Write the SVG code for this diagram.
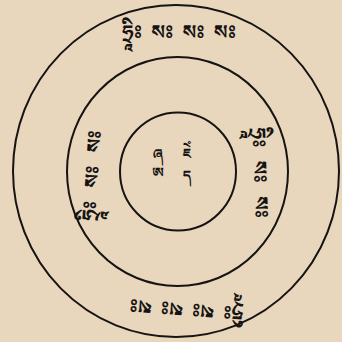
<svg xmlns="http://www.w3.org/2000/svg" width="342" height="342" viewBox="0 0 342 342">
<style>
.ring{fill:none;stroke:#161412;stroke-width:2}
.t{font-family:"Noto Sans Tibetan","Noto Serif Tibetan","Jomolhari","Tibetan Machine Uni","DejaVu Sans",sans-serif;fill:#161412;text-anchor:middle;dominant-baseline:central;font-weight:bold}
.ring-t{font-size:20px;word-spacing:4px}
.c{font-size:14px}
</style>
<rect width="342" height="342" fill="#e8d6bd"/>
<g id="circles">
<ellipse class="ring" cx="176" cy="171" rx="163" ry="166"/>
<ellipse class="ring" cx="177.5" cy="171.5" rx="110.5" ry="114.5"/>
<ellipse class="ring" cx="178" cy="171.5" rx="58" ry="59"/>
</g>
<g id="outer-ring-text">
<text class="t ring-t" x="179" y="38">ཧྲཱིཿ སཿ སཿ སཿ</text>
<text class="t ring-t" transform="translate(187,303) rotate(184)">ཧྲཱིཿ སཿ སཿ སཿ</text>
</g>
<g id="middle-ring-text">
<text class="t ring-t" style="word-spacing:8px" transform="translate(254,173) rotate(88)">ཧྲཱིཿ སཿ སཿ</text>
<text class="t ring-t" style="word-spacing:8px" transform="translate(98,176) rotate(-86)">ཧྲཱིཿ སཿ སཿ</text>
</g>
<g id="center-text">
<text class="t c" x="158" y="158">ཞ</text>
<text class="t c" x="158" y="176">ཨ</text>
<text class="t c" x="187" y="157">ཇེཾ</text>
<text class="t c" x="187" y="179">ད</text>
</g>
</svg>
